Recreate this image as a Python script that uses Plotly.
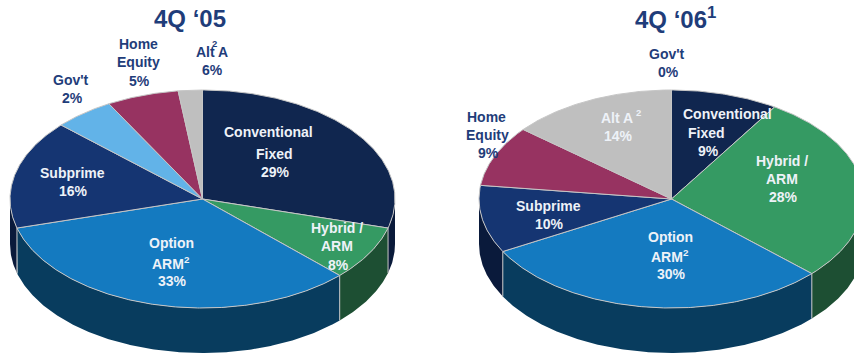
import numpy as np
import plotly.graph_objects as go

# Mortgage origination mix, percent of total, in clockwise order from 12 o'clock
segments_05 = ["Conventional Fixed", "Hybrid / ARM", "Option ARM", "Subprime", "Home Equity", "Alt A", "Gov't"]
values_05 = [29, 8, 33, 16, 5, 6, 2]
segments_06 = ["Conventional Fixed", "Hybrid / ARM", "Option ARM", "Subprime", "Home Equity", "Alt A", "Gov't"]
values_06 = [9, 28, 30, 10, 9, 14, 0]

titles = ["4Q ‘05", "4Q ‘06<sup>1</sup>"]

BASE = {"Conventional Fixed": "#10264F", "Hybrid / ARM": "#359A63", "Option ARM": "#147AC0",
        "Subprime": "#153572"}
TOP_05 = dict(BASE, **{"Home Equity": "#62B3E8", "Alt A": "#973361", "Gov't": "#BFBFBF"})
TOP_06 = dict(BASE, **{"Home Equity": "#973361", "Alt A": "#BFBFBF", "Gov't": "#62B3E8"})
WALL = {"Conventional Fixed": "#0A1A3A", "Hybrid / ARM": "#1D4F33", "Option ARM": "#083C5E",
        "Subprime": "#0A1A3B"}
EDGE = "#C6C6C6"
NAVY = "#1F3D7A"
PALE = "#EEF2F8"

RX, RY, DEPTH = 192.5, 109, 45
CY = 199


def arc(cx, cy, t0, t1):
    t = np.radians(np.linspace(t0, t1, max(int(abs(t1 - t0) * 2), 2)))
    return cx + RX * np.sin(t), cy - RY * np.cos(t)


def add_pie(fig, cx, names, values, colours):
    total = sum(values)
    edges = np.cumsum([0] + values) / total * 360
    # Side wall: only the part of each slice on the near half of the rim
    for name, a, b in zip(names, edges[:-1], edges[1:]):
        lo, hi = max(a, 90), min(b, 270)
        if hi <= lo:
            continue
        x1, y1 = arc(cx, CY, lo, hi)
        x2, y2 = arc(cx, CY + DEPTH, hi, lo)
        fig.add_trace(go.Scatter(x=np.r_[x1, x2, x1[0]], y=np.r_[y1, y2, y1[0]], mode="lines",
                                 fill="toself", fillcolor=WALL[name], line=dict(width=0)))
        if 90 < a < 270:
            xe, ye = arc(cx, CY, a, a + 1)
            fig.add_trace(go.Scatter(x=[xe[0], xe[0]], y=[ye[0], ye[0] + DEPTH], mode="lines",
                                     line=dict(color=EDGE, width=1)))
    # Top face
    for name, a, b, in zip(names, edges[:-1], edges[1:]):
        if b <= a:
            continue
        x, y = arc(cx, CY, a, b)
        fig.add_trace(go.Scatter(x=np.r_[cx, x, cx], y=np.r_[CY, y, CY], mode="lines",
                                 fill="toself", fillcolor=colours[name],
                                 line=dict(color=EDGE, width=1)))


# Label lines as (text, x, y, colour)
label_lines = [
    ("Home", 138, 44, NAVY), ("Equity", 138, 62, NAVY), ("5%", 139, 81, NAVY),
    ("Alt A", 212, 52, NAVY), ("6%", 212, 70, NAVY),
    ("Gov't", 71, 80, NAVY), ("2%", 72, 98, NAVY),
    ("Conventional", 268, 132, PALE), ("Fixed", 274, 154, PALE), ("29%", 275, 172, PALE),
    ("Subprime", 72, 173, PALE), ("16%", 73, 191, PALE),
    ("Hybrid /", 337, 228, PALE), ("ARM", 337, 246, PALE), ("8%", 338, 265, PALE),
    ("Option", 171, 243, PALE), ("ARM<sup>2</sup>", 171, 263, PALE), ("33%", 172, 281, PALE),
    ("Gov't", 667, 54, NAVY), ("0%", 668, 72, NAVY),
    ("Home", 486, 117, NAVY), ("Equity", 487, 135, NAVY), ("9%", 488, 153, NAVY),
    ("Alt A", 617, 118, PALE), ("14%", 618, 136, PALE),
    ("Conventional", 727, 114, PALE), ("Fixed", 706, 133, PALE), ("9%", 708, 151, PALE),
    ("Hybrid /", 782, 161, PALE), ("ARM", 782, 179, PALE), ("28%", 783, 197, PALE),
    ("Subprime", 548, 206, PALE), ("10%", 549, 224, PALE),
    ("Option", 670, 237, PALE), ("ARM<sup>2</sup>", 670, 256, PALE), ("30%", 671, 274, PALE),
]
# Footnote marks that sit apart from their label
note_marks = [("2", 214, 43, NAVY), ("2", 638, 112, PALE)]

fig = go.Figure()
add_pie(fig, 202.5, segments_05, values_05, TOP_05)
add_pie(fig, 671.5, segments_06, values_06, TOP_06)

for text, x, y, colour in label_lines:
    fig.add_annotation(x=x, y=y, text=text, showarrow=False, xanchor="center", yanchor="middle",
                       font=dict(family="Liberation Sans", size=14, color=colour, weight="bold"))
for text, x, y, colour in note_marks:
    fig.add_annotation(x=x, y=y, text=text, showarrow=False, xanchor="center", yanchor="middle",
                       font=dict(family="Liberation Sans", size=9.5, color=colour, weight="bold"))
for title, x in zip(titles, [190, 675]):
    fig.add_annotation(x=x, y=18, text=title, showarrow=False, xanchor="center", yanchor="middle",
                       font=dict(family="Liberation Sans", size=24, color=NAVY, weight="bold"))

fig.update_layout(
    width=854, height=354, margin=dict(l=0, r=0, t=0, b=0), showlegend=False,
    paper_bgcolor="white", plot_bgcolor="white", hovermode=False,
    xaxis=dict(range=[0, 854], visible=False, fixedrange=True),
    yaxis=dict(range=[354, 0], visible=False, fixedrange=True),
)
fig.write_html("out.html", config=dict(displayModeBar=False))
